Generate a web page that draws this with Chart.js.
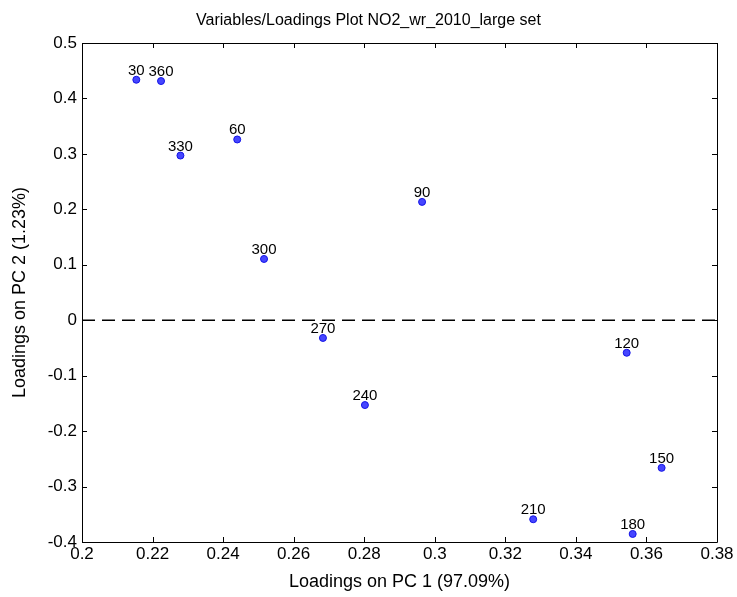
<!DOCTYPE html>
<html>
<head>
<meta charset="utf-8">
<title>Variables/Loadings Plot</title>
<script src="https://cdn.jsdelivr.net/npm/chart.js@4"></script>
<style>
  html, body { margin: 0; padding: 0; background: #fff; }
  #wrap { width: 737px; height: 597px; position: relative; }
</style>
</head>
<body>
<div id="wrap"><canvas id="chart"></canvas></div>
<script>
// wind direction labels and their loadings on PC1 / PC2
const directions = ['30', '360', '330', '60', '90', '300', '270', '240', '120', '150', '210', '180'];
const pc1 = [0.2154, 0.2224, 0.2279, 0.2440, 0.2964, 0.2516, 0.2683, 0.2802, 0.3544, 0.3643, 0.3279, 0.3561];
const pc2 = [0.4337, 0.4314, 0.2970, 0.3260, 0.2134, 0.1105, -0.0320, -0.1530, -0.0587, -0.2663, -0.3590, -0.3855];

const xTicks = [0.2, 0.22, 0.24, 0.26, 0.28, 0.3, 0.32, 0.34, 0.36, 0.38];
const yTicks = [-0.4, -0.3, -0.2, -0.1, 0, 0.1, 0.2, 0.3, 0.4, 0.5];

const points = pc1.map((x, i) => ({ x: x, y: pc2[i] }));
const zeroLine = [{ x: xTicks[0], y: 0 }, { x: xTicks[xTicks.length - 1], y: 0 }];

const fmt = v => String(+Number(v).toFixed(2));

// box around the axes with matlab-style inward ticks on all four sides
const boxTicks = {
  id: 'boxTicks',
  afterDraw(chart) {
    const { ctx, chartArea: a, scales } = chart;
    const len = 5;
    ctx.save();
    ctx.strokeStyle = '#000';
    ctx.lineWidth = 1;
    ctx.beginPath();
    ctx.rect(a.left + 0.5, a.top + 0.5, a.right - a.left, a.bottom - a.top);
    xTicks.forEach(v => {
      const px = Math.round(scales.x.getPixelForValue(v)) + 0.5;
      ctx.moveTo(px, a.bottom); ctx.lineTo(px, a.bottom - len);
      ctx.moveTo(px, a.top); ctx.lineTo(px, a.top + len);
    });
    yTicks.forEach(v => {
      const py = Math.round(scales.y.getPixelForValue(v)) + 0.5;
      ctx.moveTo(a.left, py); ctx.lineTo(a.left + len, py);
      ctx.moveTo(a.right, py); ctx.lineTo(a.right - len, py);
    });
    ctx.stroke();
    ctx.restore();
  }
};

// text label above each point
const pointLabels = {
  id: 'pointLabels',
  afterDatasetsDraw(chart) {
    const { ctx } = chart;
    const meta = chart.getDatasetMeta(1);
    ctx.save();
    ctx.font = '15px "Liberation Sans", Arial, sans-serif';
    ctx.fillStyle = '#000';
    ctx.textAlign = 'center';
    ctx.textBaseline = 'alphabetic';
    meta.data.forEach((el, i) => {
      ctx.fillText(directions[i], el.x, el.y - 5);
    });
    ctx.restore();
  }
};

Chart.defaults.color = '#000';
Chart.defaults.font.family = '"Liberation Sans", Arial, sans-serif';

new Chart(document.getElementById('chart'), {
  type: 'scatter',
  data: {
    datasets: [
      {
        type: 'line',
        data: zeroLine,
        borderColor: '#000',
        borderWidth: 1.5,
        borderDash: [13, 7],
        pointRadius: 0,
        fill: false
      },
      {
        data: points,
        pointRadius: 3.5,
        pointBackgroundColor: 'rgb(70,70,255)',
        pointBorderColor: 'rgb(20,20,230)',
        pointBorderWidth: 1
      }
    ]
  },
  options: {
    responsive: true,
    maintainAspectRatio: false,
    animation: false,
    layout: { padding: 0 },
    plugins: {
      legend: { display: false },
      tooltip: { enabled: false },
      title: {
        display: true,
        text: 'Variables/Loadings Plot NO2_wr_2010_large set',
        font: { size: 16, weight: 'normal' },
        padding: { top: 11, bottom: 12.8 }
      }
    },
    scales: {
      x: {
        type: 'linear',
        min: xTicks[0],
        max: xTicks[xTicks.length - 1],
        afterBuildTicks: s => { s.ticks = xTicks.map(v => ({ value: v })); },
        afterFit: s => { s.height = 55; },
        grid: { display: false, drawTicks: false },
        border: { display: false },
        ticks: { font: { size: 17 }, padding: 2, maxRotation: 0, callback: fmt },
        title: {
          display: true,
          text: 'Loadings on PC 1 (97.09%)',
          font: { size: 18 },
          padding: { top: 0, bottom: 4 }
        }
      },
      y: {
        type: 'linear',
        min: yTicks[0],
        max: yTicks[yTicks.length - 1],
        afterBuildTicks: s => { s.ticks = yTicks.map(v => ({ value: v })); },
        afterFit: s => { s.width = 82; },
        grid: { display: false, drawTicks: false },
        border: { display: false },
        ticks: { font: { size: 17 }, padding: 5, callback: fmt },
        title: {
          display: true,
          text: 'Loadings on PC 2 (1.23%)',
          font: { size: 18 },
          padding: { top: 9, bottom: 0 }
        }
      },
      // empty right-hand margin so the title stays centred on the page
      yRight: {
        type: 'linear',
        position: 'right',
        afterFit: s => { s.width = 20; },
        grid: { display: false, drawTicks: false },
        border: { display: false },
        ticks: { display: false }
      }
    }
  },
  plugins: [boxTicks, pointLabels]
});
</script>
</body>
</html>
